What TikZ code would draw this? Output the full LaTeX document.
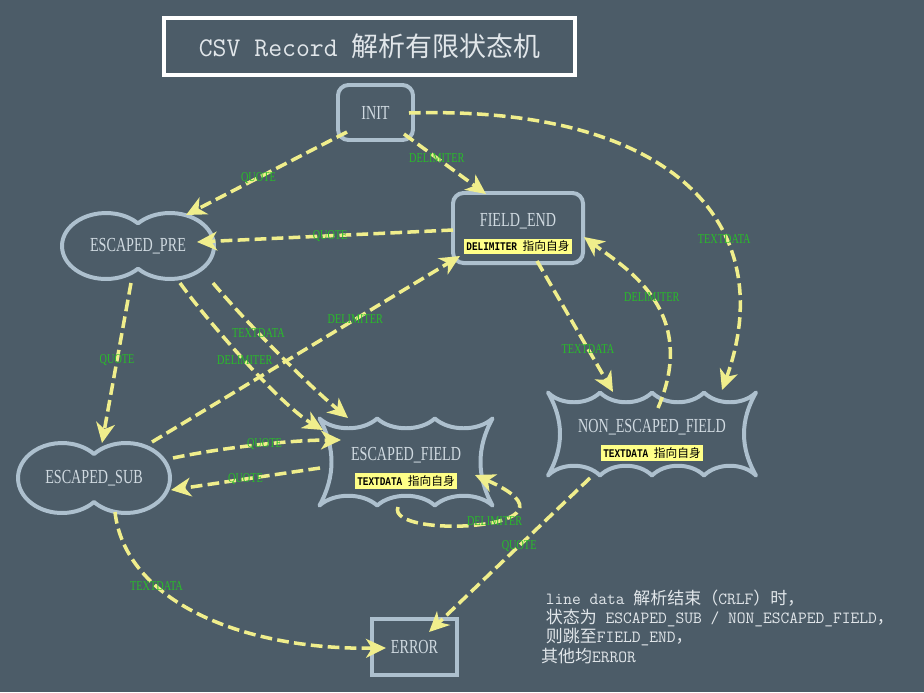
\documentclass[tikz,border=0pt]{standalone}
\usepackage{fontspec}
\usetikzlibrary{arrows.meta}

\newfontfamily\cjk{Noto Sans CJK SC}
\newfontfamily\namefont[FakeStretch=0.71]{Liberation Serif}
\newfontfamily\condfont[FakeStretch=0.76]{Liberation Serif}
\newfontfamily\tagfont[FakeStretch=0.8]{Liberation Mono}

\definecolor{bgc}{RGB}{76,92,104}
\definecolor{stateline}{RGB}{173,192,206}
\definecolor{statetext}{RGB}{208,218,225}
\definecolor{arrowc}{RGB}{240,238,140}
\definecolor{labelc}{RGB}{40,190,40}
\definecolor{tagfill}{RGB}{255,255,136}
\definecolor{notetext}{RGB}{225,230,234}

% yellow "self" tag inside a state
\newcommand\tagbox[1]{{\setlength{\fboxsep}{2pt}\colorbox{tagfill}{\color{black}\fontsize{10pt}{12pt}\selectfont\tagfont\bfseries #1}}}

% two-lobed outline round a node: node, lobe offset, x radius, y radius
\newcommand\peanutoutline[4]{%
  \begin{scope}[shift={(#1.center)}]
    \pgfmathsetmacro\lobeang{acos(#2/#3)}
    \draw[shapeline] (0,{#4*sin(\lobeang)})
      arc[start angle=\lobeang, end angle={360-\lobeang}, x radius=#3, y radius=#4]
      arc[start angle={180+\lobeang}, end angle={540-\lobeang}, x radius=#3, y radius=#4] -- cycle;
  \end{scope}}

% wavy outline round a node: node, half width, half height, waves
\newcommand\wavyoutline[4]{%
  \begin{scope}[shift={(#1.center)}, yshift=0.18cm]
    \pgfmathsetmacro\segw{2*#2/#4}
    \draw[shapeline] (-#2,-#3)
      \foreach \k in {1,...,#4}{
        .. controls ({-#2+(\k-0.75)*\segw},{-#3+13}) and ({-#2+(\k-0.25)*\segw},{-#3+13}) .. ({-#2+\k*\segw},-#3)}
      .. controls ({#2-16},{-#3/3}) and ({#2-16},{#3/3}) .. (#2,#3)
      \foreach \k in {1,...,#4}{
        .. controls ({#2-(\k-0.75)*\segw},{#3-13}) and ({#2-(\k-0.25)*\segw},{#3-13}) .. ({#2-\k*\segw},#3)}
      .. controls ({-#2+16},{#3/3}) and ({-#2+16},{-#3/3}) .. (-#2,-#3) -- cycle;
  \end{scope}}

\begin{document}
\begin{tikzpicture}[
  x=0.03cm, y=-0.03cm,
  state/.style={draw=stateline, line width=3.4pt, rounded corners=9pt, text=statetext, align=center, font=\namefont\fontsize{17pt}{19pt}\selectfont},
  shapeline/.style={draw=stateline, line width=3.4pt, line join=round},
  shapetext/.style={text=statetext, align=center, font=\namefont\fontsize{17pt}{19pt}\selectfont},
  trans/.style={draw=arrowc, line width=3pt, dash pattern=on 10pt off 4.5pt, -{Stealth[length=17pt, width=16pt, inset=5pt]}},
  cond/.style={text=labelc, font=\condfont\fontsize{11.5pt}{13pt}\selectfont, inner sep=1pt}
]
\useasboundingbox (0,0) rectangle (924,692);
\fill[bgc] (0,0) rectangle (924,692);

% title
\node[draw=white, line width=2.6pt, minimum width=12.33cm, minimum height=1.71cm, text=notetext, font=\ttfamily\fontsize{23pt}{26pt}\selectfont] (title) at (369.5,46.5) {CSV Record {\cjk 解析有限状态机}};

% states
\node[state, minimum width=2.25cm, minimum height=1.65cm] (init) at (375.5,112.5) {INIT};
\node[state, minimum width=3.9cm, minimum height=2.1cm] (fend) at (518,228) {\rule{0pt}{21pt}FIELD\_END\\[2pt]\tagbox{DELIMITER {\mdseries\cjk 指向自身}}};
\node[shapetext] (pre) at (138,246) {ESCAPED\_PRE};
\peanutoutline{pre}{32}{44}{33}
\node[shapetext] (sub) at (94,478) {ESCAPED\_SUB};
\peanutoutline{sub}{32}{44}{35}
\node[shapetext] (ef) at (406,468) {ESCAPED\_FIELD\\[2pt]\tagbox{TEXTDATA {\mdseries\cjk 指向自身}}};
\wavyoutline{ef}{86.5}{43.5}{3}
\node[shapetext] (nef) at (652,440) {NON\_ESCAPED\_FIELD\\[2pt]\tagbox{TEXTDATA {\mdseries\cjk 指向自身}}};
\wavyoutline{nef}{104}{41.5}{4}
\node[state, sharp corners, minimum width=2.55cm, minimum height=1.68cm] (err) at (414.5,647) {ERROR};

% transitions
\draw[trans] ([shift={(-28.5,19.5)}]init.center) -- ([shift={(48,-31)}]pre.center) node[cond, pos=0.55] {QUOTE};
\draw[trans] ([shift={(28.5,21.5)}]init.center) -- ([shift={(-32,-34)}]fend.center) node[cond, pos=0.4] {DELIMITER};
\draw[trans] ([shift={(33.5,0.5)}]init.center) .. controls (680,105) and (780,230) .. ([shift={(70,-50)}]nef.center) node[cond, pos=0.65] {TEXTDATA};
\draw[trans] ([shift={(-65,2)}]fend.center) -- ([shift={(59,-4)}]pre.center) node[cond, pos=0.48] {QUOTE};
\draw[trans] ([shift={(19,33)}]fend.center) -- ([shift={(-39,-48)}]nef.center) node[cond, pos=0.67] {TEXTDATA};
\draw[trans] ([shift={(6,-32)}]nef.center) .. controls (700,310) and (624,267) .. ([shift={(66,9)}]fend.center) node[cond, pos=0.5] {DELIMITER};
\draw[trans] ([shift={(-7,37)}]pre.center) -- ([shift={(8,-35)}]sub.center) node[cond, pos=0.48] {QUOTE};
\draw[trans] ([shift={(75,37)}]pre.center) .. controls (240,315) and (300,378) .. ([shift={(-58,-50)}]ef.center) node[cond, pos=0.4] {TEXTDATA};
\draw[trans] ([shift={(42,37)}]pre.center) .. controls (205,318) and (280,405) .. ([shift={(-83,-38)}]ef.center) node[cond, pos=0.5] {DELIMITER};
\draw[trans] ([shift={(58,-36)}]sub.center) -- ([shift={(-58,28)}]fend.center) node[cond, pos=0.66] {DELIMITER};
\draw[trans] ([shift={(79,-20)}]sub.center) .. controls (220,448) and (290,440) .. ([shift={(-65,-28)}]ef.center) node[cond, pos=0.55] {QUOTE};
\draw[trans] ([shift={(-86,0)}]ef.center) -- ([shift={(77,12)}]sub.center) node[cond, pos=0.5] {QUOTE};
\draw[trans] ([shift={(-8,39)}]ef.center) .. controls (385,540) and (600,530) .. ([shift={(69,7)}]ef.center) node[cond, pos=0.58] {DELIMITER};
\draw[trans] ([shift={(-62,38)}]nef.center) -- ([shift={(14.5,-15)}]err.center) node[cond, pos=0.44] {QUOTE};
\draw[trans] ([shift={(21,34)}]sub.center) .. controls (125,600) and (240,650) .. ([shift={(-28.5,1)}]err.center) node[cond, pos=0.33] {TEXTDATA};

% remark
\node[anchor=north west, align=left, inner sep=0pt, text=notetext, font=\ttfamily\fontsize{14.5pt}{16.3pt}\selectfont] (remark) at (541,590) {%
  \hspace*{4pt}line data {\cjk 解析结束（}CRLF{\cjk ）时，}\\
  \hspace*{4pt}{\cjk 状态为} ESCAPED\_SUB / NON\_ESCAPED\_FIELD{\cjk ，}\\
  \hspace*{4pt}{\cjk 则跳至}FIELD\_END{\cjk ，}\\
  {\cjk 其他均}ERROR};
\end{tikzpicture}
\end{document}
